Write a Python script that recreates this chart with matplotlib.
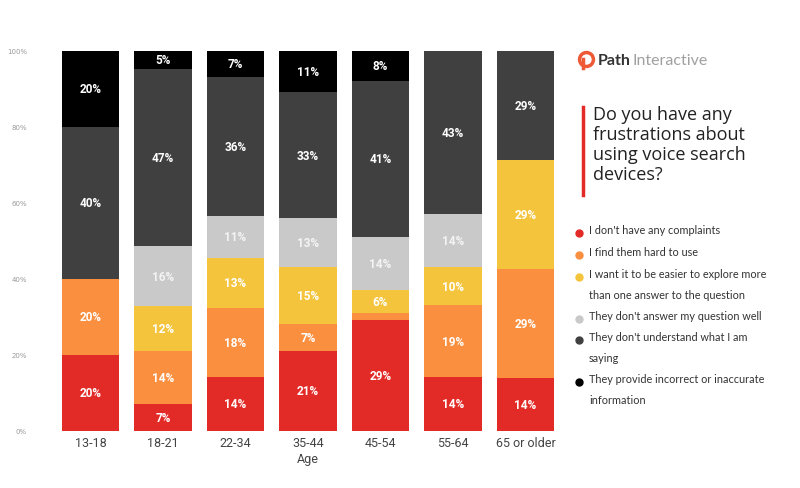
import matplotlib.pyplot as plt
import numpy as np

# 数据
ages = ["13-18", "18-21", "22-34", "35-44", "45-54", "55-64", "65 or older"]
no_complaints = [20, 7, 14, 21, 29, 14, 14]
hard_to_use = [20, 14, 18, 7, 2, 19, 29]
explore_more = [0, 12, 13, 15, 6, 10, 29]
dont_answer = [0, 16, 11, 13, 14, 14, 0]
dont_understand = [40, 47, 36, 33, 41, 43, 29]
incorrect = [20, 5, 7, 11, 8, 0, 0]

series_names = [
    "I don't have any complaints",
    "I find them hard to use",
    "I want it to be easier to explore more\nthan one answer to the question",
    "They don't answer my question well",
    "They don't understand what I am\nsaying",
    "They provide incorrect or inaccurate\ninformation",
]
colors = ["#E22B26", "#F98F3F", "#F4C43C", "#C9C9C9", "#404040", "#000000"]
y_ticks = [0, 20, 40, 60, 80, 100]

series = np.array([no_complaints, hard_to_use, explore_more,
                   dont_answer, dont_understand, incorrect], dtype=float)
# 每根柱子归一化到100%
heights = series / series.sum(axis=0) * 100

fig = plt.figure(figsize=(8, 4.89), dpi=100)
ax = fig.add_axes([50.6 / 800, 1 - 431.5 / 489, (565.4 - 50.6) / 800, 380 / 489])

x = np.arange(len(ages))
bottom = np.zeros(len(ages))
for i in range(len(series)):
    ax.bar(x, heights[i], 0.79, bottom=bottom, color=colors[i], linewidth=0)
    for j in range(len(ages)):
        if series[i, j] >= 5:
            txt_color = "white" if i != 3 else "#F4F4F4"
            ax.text(x[j], bottom[j] + heights[i, j] / 2, f"{int(series[i, j])}%",
                    ha="center", va="center", color=txt_color, fontsize=8.5,
                    fontweight="bold", family="Roboto")
    bottom += heights[i]

ax.set_xlim(-0.55, 6.55)
ax.set_ylim(0, 100)
ax.set_yticks(y_ticks)
ax.set_yticklabels([f"{t}%" for t in y_ticks], fontsize=5, color="#9A9A9A")
ax.set_xticks(x)
ax.set_xticklabels(ages, fontsize=9, color="#444444", family="Roboto")
ax.tick_params(axis="y", length=0, pad=17)
ax.tick_params(axis="x", length=0, pad=4)
for s in ax.spines.values():
    s.set_visible(False)
ax.set_xlabel("Age", fontsize=9, color="#444444", family="Roboto", labelpad=2)

# 标志
fig.add_artist(plt.Line2D([586 / 800], [1 - 60 / 489], marker="o", markersize=10,
                          markerfacecolor="none", markeredgecolor="#EE5A35",
                          markeredgewidth=2.5, linestyle="none"))
fig.add_artist(plt.Line2D([582.5 / 800, 582.5 / 800], [1 - 60 / 489, 1 - 69 / 489],
                          color="#EE5A35", linewidth=2.5))
fig.text(598 / 800, 1 - 61 / 489, "Path", color="#333333", fontsize=11.5,
         fontweight="bold", va="center", family="Lato")
fig.text(633 / 800, 1 - 61 / 489, "Interactive", color="#A0A0A0", fontsize=11.5,
         va="center", family="Lato")

# 标题
fig.add_artist(plt.Line2D([583 / 800, 583 / 800], [1 - 108 / 489, 1 - 196 / 489],
                          color="#E22B26", linewidth=2.5))
fig.text(593 / 800, 1 - 106 / 489,
         "Do you have any\nfrustrations about\nusing voice search\ndevices?",
         fontsize=13, color="#222222", va="top", ha="left", linespacing=1.15,
         family="Open Sans")

# 图例
legend_y = [231, 253, 275, 317, 338, 380]
for name, c, yy in zip(series_names, colors, legend_y):
    fig.add_artist(plt.Line2D([579 / 800], [1 - (yy + 3) / 489], marker="o",
                              markersize=5, color=c, linestyle="none"))
    fig.text(589 / 800, 1 - (yy - 6) / 489, name, fontsize=7.8, color="#333333",
             va="top", ha="left", linespacing=2.1, family="Lato")

fig.savefig("out.png", dpi=100)
